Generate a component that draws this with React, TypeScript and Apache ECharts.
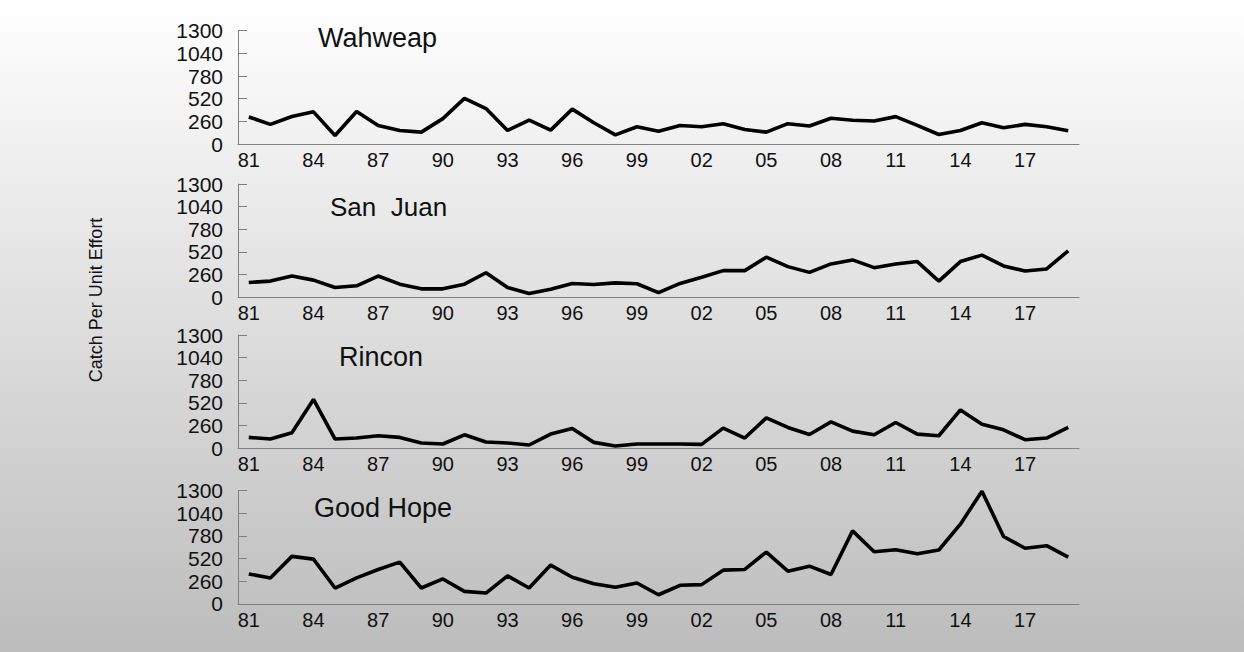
import React, { useEffect, useRef } from "react";
import * as echarts from "echarts";

const years: string[] = [
  "81","82","83","84","85","86","87","88","89","90","91","92","93","94","95","96","97","98","99",
  "00","01","02","03","04","05","06","07","08","09","10","11","12","13","14","15","16","17","18","19",
];

const wahweap: number[] = [
  310, 225, 315, 369, 97, 372, 213, 155, 136, 291, 524, 407, 155, 275, 159, 400, 244, 105, 198, 147, 213, 198,
  233, 167, 136, 233, 206, 295, 272, 264, 314, 213, 109, 155, 244, 186, 225, 198, 151,
];
const sanJuan: number[] = [
  170, 186, 244, 197, 112, 132, 244, 151, 97, 97, 151, 282, 112, 43, 93, 159, 147, 166, 155, 54, 159, 230,
  306, 306, 460, 352, 286, 383, 429, 340, 383, 410, 186, 410, 484, 360, 302, 325, 534,
];
const rincon: number[] = [
  125, 106, 178, 561, 106, 118, 144, 125, 61, 49, 155, 72, 61, 38, 163, 227, 68, 27, 49, 49, 49, 45,
  231, 118, 349, 239, 159, 303, 197, 155, 296, 163, 144, 440, 277, 212, 99, 118, 239,
];
const goodHope: number[] = [
  343, 297, 544, 513, 181, 297, 394, 478, 181, 285, 143, 123, 320, 181, 444, 305, 231, 189, 239, 104, 212, 220,
  386, 394, 594, 374, 432, 336, 837, 598, 621, 575, 617, 914, 1292, 772, 637, 667, 536,
];

const panelNames: string[] = ["Wahweap", "San  Juan", "Rincon", "Good Hope"];
const panelSeries: number[][] = [wahweap, sanJuan, rincon, goodHope];
const yTicks = { min: 0, max: 1300, interval: 260 };
const yAxisTitle = "Catch Per Unit Effort";

const FONT = "'Liberation Sans', Arial, Helvetica, sans-serif";

export default function App() {
  const ref = useRef<HTMLDivElement>(null);

  useEffect(() => {
    if (!ref.current) return;
    const chart = echarts.init(ref.current, undefined, { renderer: "svg" });

    const tops = [30.7, 184, 335, 490.5];
    const height = 113.3;
    const titlePos = [
      { left: 318, top: 24, size: 27 },
      { left: 330, top: 194, size: 26 },
      { left: 339, top: 343, size: 27 },
      { left: 314, top: 494, size: 27 },
    ];

    const every3 = (i: number) => i % 3 === 0;

    const option: any = {
      animation: false,
      backgroundColor: new echarts.graphic.LinearGradient(0, 0, 0, 1, [
        { offset: 0, color: "#ffffff" },
        { offset: 1, color: "#bcbcbc" },
      ]),
      title: panelNames.map((n, i) => ({
        text: n,
        left: titlePos[i].left,
        top: titlePos[i].top,
        padding: 0,
        textStyle: { fontFamily: FONT, fontSize: titlePos[i].size, fontWeight: "normal", color: "#111" },
      })),
      graphic: [
        {
          type: "text",
          x: 96,
          y: 300,
          rotation: Math.PI / 2,
          style: {
            text: yAxisTitle,
            fontFamily: FONT,
            fontSize: 18,
            fill: "#111",
            textAlign: "center",
            textVerticalAlign: "middle",
          },
        },
      ],
      grid: tops.map((t) => ({ left: 238, top: t, width: 841, height })),
      xAxis: panelSeries.map((_, i) => ({
        type: "category",
        gridIndex: i,
        data: years,
        boundaryGap: true,
        axisLine: { lineStyle: { color: "#808080", width: 1 } },
        axisTick: {
          inside: true,
          alignWithLabel: true,
          interval: every3,
          length: 8,
          lineStyle: { color: "#808080" },
        },
        axisLabel: {
          interval: every3,
          fontFamily: FONT,
          fontSize: 20,
          color: "#111",
          margin: 6,
        },
        splitLine: { show: false },
      })),
      yAxis: panelSeries.map((_, i) => ({
        type: "value",
        gridIndex: i,
        min: yTicks.min,
        max: yTicks.max,
        interval: yTicks.interval,
        axisLine: { show: true, lineStyle: { color: "#808080", width: 1 } },
        axisTick: { show: true, inside: true, length: 9, lineStyle: { color: "#808080" } },
        axisLabel: {
          fontFamily: FONT,
          fontSize: 21,
          color: "#111",
          margin: 15,
          formatter: (v: number) => String(v),
        },
        splitLine: { show: false },
      })),
      series: panelSeries.map((d, i) => ({
        type: "line",
        xAxisIndex: i,
        yAxisIndex: i,
        data: d,
        symbol: "none",
        lineStyle: { color: "#000", width: 3.6 },
      })),
    };

    chart.setOption(option);
    return () => chart.dispose();
  }, []);

  return (
    <div
      ref={ref}
      style={{ position: "fixed", left: 0, top: 0, width: 1244, height: 652 }}
    />
  );
}
